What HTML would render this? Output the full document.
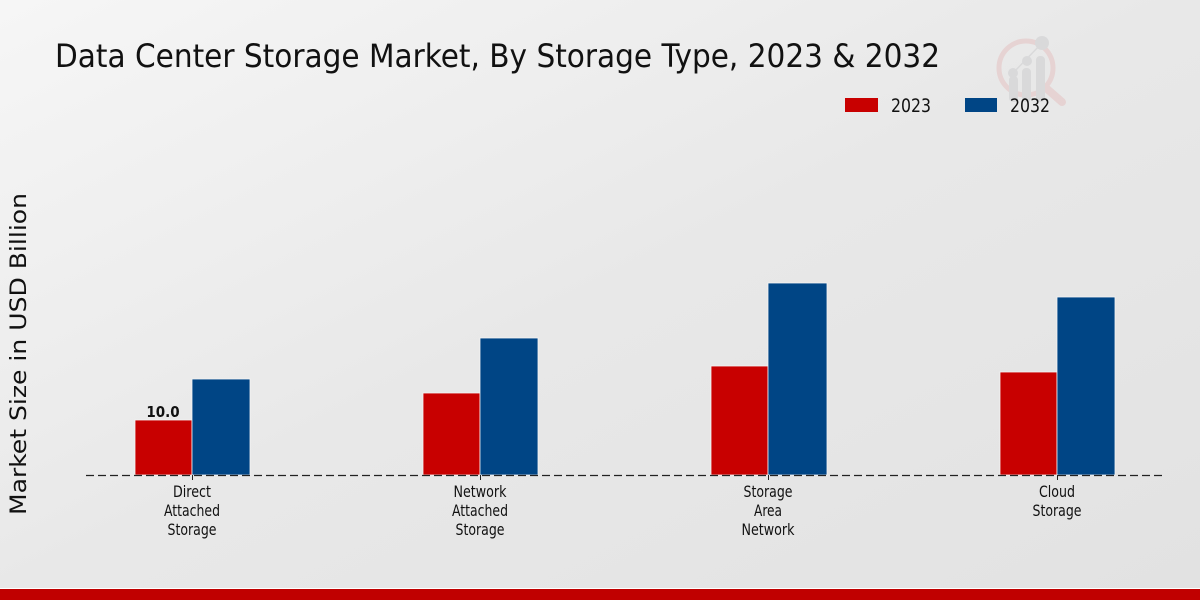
<!DOCTYPE html>
<html><head><meta charset="utf-8"><style>
html,body{margin:0;padding:0;width:1200px;height:600px;overflow:hidden}
svg{display:block}
text{font-family:"DejaVu Sans Condensed","DejaVu Sans","Liberation Sans",sans-serif;font-stretch:condensed}
</style></head><body>
<svg width="1200" height="600" viewBox="0 0 1200 600" xmlns="http://www.w3.org/2000/svg">
<defs>
<linearGradient id="bg" x1="0" y1="0" x2="1" y2="1">
<stop offset="0" stop-color="#f6f6f6"/>
<stop offset="0.5" stop-color="#e8e8e8"/>
<stop offset="1" stop-color="#e2e2e2"/>
</linearGradient>
</defs>
<rect x="0" y="0" width="1200" height="600" fill="url(#bg)"/>
<rect x="0" y="588" width="1200" height="1" fill="#ffffff"/>
<rect x="0" y="589" width="1200" height="11" fill="#c00000"/>

<!-- logo -->
<g opacity="0.75">
<circle cx="1026" cy="68" r="27" fill="none" stroke="#e6cccc" stroke-width="5"/>
<line x1="1046" y1="88" x2="1062" y2="102" stroke="#e6cccc" stroke-width="8" stroke-linecap="round"/>
<rect x="1009" y="76" width="9" height="26" rx="4" fill="#d4d4d6"/>
<rect x="1022" y="68" width="9" height="34" rx="4" fill="#d4d4d6"/>
<rect x="1036" y="56" width="9" height="46" rx="4" fill="#d4d4d6"/>
<circle cx="1013" cy="73" r="5" fill="#d4d4d6"/>
<circle cx="1027" cy="61" r="5" fill="#d4d4d6"/>
<circle cx="1042" cy="43" r="7" fill="#d4d4d6"/>
<line x1="1013" y1="73" x2="1042" y2="43" stroke="#d4d4d6" stroke-width="1.5"/>
</g>

<text x="55" y="67" font-size="32" fill="#111" textLength="885" lengthAdjust="spacingAndGlyphs">Data Center Storage Market, By Storage Type, 2023 &amp; 2032</text>

<!-- legend -->
<rect x="845" y="98" width="33" height="14" fill="#c80000"/>
<text x="891" y="112" font-size="19" fill="#111" textLength="40" lengthAdjust="spacingAndGlyphs">2023</text>
<rect x="965" y="98" width="32" height="14" fill="#004585"/>
<text x="1010" y="112" font-size="19" fill="#111" textLength="40" lengthAdjust="spacingAndGlyphs">2032</text>

<!-- y label -->
<text transform="translate(26,354) rotate(-90)" text-anchor="middle" font-size="22" fill="#111" textLength="322" lengthAdjust="spacingAndGlyphs" style="font-stretch:normal">Market Size in USD Billion</text>

<!-- bars -->
<g stroke="#f4f4f4" stroke-width="0.8">
<rect x="135" y="420" width="57" height="55" fill="#c80000"/>
<rect x="192" y="379" width="58" height="96" fill="#004585"/>
<rect x="423" y="393" width="57" height="82" fill="#c80000"/>
<rect x="480" y="338" width="58" height="137" fill="#004585"/>
<rect x="711" y="366" width="57" height="109" fill="#c80000"/>
<rect x="768" y="283" width="59" height="192" fill="#004585"/>
<rect x="1000" y="372" width="57" height="103" fill="#c80000"/>
<rect x="1057" y="297" width="58" height="178" fill="#004585"/>
</g>

<line x1="86" y1="475.5" x2="1163" y2="475.5" stroke="#222" stroke-width="1.2" stroke-dasharray="8,4"/>
<g stroke="#222" stroke-width="1">
<line x1="192.5" y1="475" x2="192.5" y2="480"/>
<line x1="480.5" y1="475" x2="480.5" y2="480"/>
<line x1="768.5" y1="475" x2="768.5" y2="480"/>
<line x1="1057.5" y1="475" x2="1057.5" y2="480"/>
</g>

<text x="163" y="417" text-anchor="middle" font-size="15" font-weight="bold" fill="#111">10.0</text>

<g font-size="16" fill="#111" text-anchor="middle" lengthAdjust="spacingAndGlyphs">
<text x="192" y="497" textLength="38" lengthAdjust="spacingAndGlyphs">Direct</text>
<text x="192" y="516" textLength="56" lengthAdjust="spacingAndGlyphs">Attached</text>
<text x="192" y="535" textLength="49" lengthAdjust="spacingAndGlyphs">Storage</text>
<text x="480" y="497" textLength="53" lengthAdjust="spacingAndGlyphs">Network</text>
<text x="480" y="516" textLength="56" lengthAdjust="spacingAndGlyphs">Attached</text>
<text x="480" y="535" textLength="49" lengthAdjust="spacingAndGlyphs">Storage</text>
<text x="768" y="497" textLength="49" lengthAdjust="spacingAndGlyphs">Storage</text>
<text x="768" y="516" textLength="28" lengthAdjust="spacingAndGlyphs">Area</text>
<text x="768" y="535" textLength="53" lengthAdjust="spacingAndGlyphs">Network</text>
<text x="1057" y="497" textLength="36" lengthAdjust="spacingAndGlyphs">Cloud</text>
<text x="1057" y="516" textLength="49" lengthAdjust="spacingAndGlyphs">Storage</text>
</g>
</svg>
</body></html>
